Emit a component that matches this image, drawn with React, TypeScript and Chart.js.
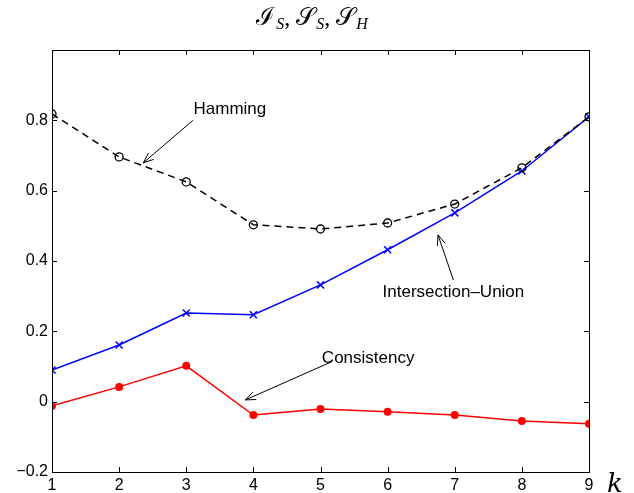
import React, { useEffect, useRef } from "react";
import { Chart, registerables } from "chart.js";

Chart.register(...registerables);

const kValues = [1, 2, 3, 4, 5, 6, 7, 8, 9];
const hamming = [0.818, 0.696, 0.625, 0.503, 0.491, 0.508, 0.562, 0.665, 0.81];
const intersectionUnion = [0.09, 0.161, 0.252, 0.247, 0.332, 0.432, 0.537, 0.656, 0.81];
const consistency = [-0.012, 0.042, 0.102, -0.038, -0.021, -0.029, -0.038, -0.055, -0.063];
const yTicks = [-0.2, 0, 0.2, 0.4, 0.6, 0.8, 1.0];
const yTickLabels = ["\u22120.2", "0", "0.2", "0.4", "0.6", "0.8", ""];

const annotations = [
  { text: "Hamming", tx: 3.65, ty: 0.83, sx: 3.1, sy: 0.8, ex: 2.36, ey: 0.679 },
  { text: "Intersection\u2013Union", tx: 6.98, ty: 0.312, sx: 6.98, sy: 0.346, ex: 6.75, ey: 0.474 },
  { text: "Consistency", tx: 5.71, ty: 0.124, sx: 5.16, sy: 0.113, ex: 3.88, ey: 0.005 },
];

const FONT = "'Liberation Sans', Arial, Helvetica, sans-serif";

const toXY = (ys: number[]) => ys.map((y, i) => ({ x: kValues[i], y }));

const framePlugin = {
  id: "frame",
  afterDraw(chart: any) {
    const { ctx, chartArea: a, scales } = chart;
    const xs = scales.x;
    const ys = scales.y;
    ctx.save();
    ctx.strokeStyle = "#000";
    ctx.lineWidth = 1;
    ctx.strokeRect(a.left + 0.5, a.top + 0.5, a.right - a.left, a.bottom - a.top);
    const tl = 5;
    ctx.beginPath();
    kValues.forEach((k) => {
      const px = Math.round(xs.getPixelForValue(k)) + 0.5;
      ctx.moveTo(px, a.bottom);
      ctx.lineTo(px, a.bottom - tl);
      ctx.moveTo(px, a.top);
      ctx.lineTo(px, a.top + tl);
    });
    yTicks.forEach((v) => {
      const py = Math.round(ys.getPixelForValue(v)) + 0.5;
      ctx.moveTo(a.left, py);
      ctx.lineTo(a.left + tl, py);
      ctx.moveTo(a.right, py);
      ctx.lineTo(a.right - tl, py);
    });
    ctx.stroke();

    // annotations
    ctx.fillStyle = "#000";
    ctx.font = `17px ${FONT}`;
    ctx.textAlign = "center";
    ctx.textBaseline = "middle";
    ctx.lineWidth = 1;
    annotations.forEach((an) => {
      ctx.fillText(an.text, xs.getPixelForValue(an.tx), ys.getPixelForValue(an.ty));
      const sx = xs.getPixelForValue(an.sx);
      const sy = ys.getPixelForValue(an.sy);
      const ex = xs.getPixelForValue(an.ex);
      const ey = ys.getPixelForValue(an.ey);
      const ang = Math.atan2(ey - sy, ex - sx);
      ctx.beginPath();
      ctx.moveTo(sx, sy);
      ctx.lineTo(ex, ey);
      ctx.stroke();
      const hl = 11;
      const hw = 0.38;
      ctx.beginPath();
      ctx.moveTo(ex - hl * Math.cos(ang - hw), ey - hl * Math.sin(ang - hw));
      ctx.lineTo(ex, ey);
      ctx.lineTo(ex - hl * Math.cos(ang + hw), ey - hl * Math.sin(ang + hw));
      ctx.stroke();
    });

    // x-axis label k
    ctx.font = `italic 26px 'DejaVu Serif', 'Liberation Serif', serif`;
    ctx.textAlign = "left";
    ctx.textBaseline = "alphabetic";
    ctx.fillText("k", a.right + 18, a.bottom + 20);

    // title with subscripts
    const parts: [string, string][] = [["\u2110", "S"], ["\uD835\uDCAE", "S"], ["\uD835\uDCAE", "H"]];
    const mainFont = `25px 'DejaVu Serif', 'Liberation Serif', serif`;
    const subFont = `italic 16px 'Liberation Serif', 'DejaVu Serif', serif`;
    const commaFont = `24px 'Liberation Serif', serif`;
    let total = 0;
    const widths: number[][] = [];
    parts.forEach((p, i) => {
      ctx.font = mainFont;
      const w1 = ctx.measureText(p[0]).width;
      ctx.font = subFont;
      const w2 = ctx.measureText(p[1]).width;
      ctx.font = commaFont;
      const w3 = i < parts.length - 1 ? ctx.measureText(", ").width : 0;
      widths.push([w1, w2, w3]);
      total += w1 + w2 + w3 + 1;
    });
    let x = 312 - total / 2;
    const base = 25;
    parts.forEach((p, i) => {
      ctx.font = mainFont;
      ctx.fillText(p[0], x, base);
      x += widths[i][0];
      ctx.font = subFont;
      ctx.fillText(p[1], x + 1, base + 4);
      x += widths[i][1] + 1;
      if (i < parts.length - 1) {
        ctx.font = commaFont;
        ctx.fillText(",", x, base);
        x += widths[i][2];
      }
    });
    ctx.restore();
  },
};

export default function App() {
  const ref = useRef<HTMLCanvasElement>(null);
  useEffect(() => {
    if (!ref.current) return;
    const chart = new Chart(ref.current, {
      type: "line",
      data: {
        datasets: [
          {
            label: "Hamming",
            data: toXY(hamming),
            borderColor: "#000",
            borderWidth: 1.5,
            borderDash: [7, 5],
            pointStyle: "circle",
            pointRadius: 4,
            pointBorderWidth: 1.3,
            pointBorderColor: "#000",
            pointBackgroundColor: "rgba(255,255,255,0)",
            tension: 0,
          },
          {
            label: "Intersection-Union",
            data: toXY(intersectionUnion),
            borderColor: "#0000ff",
            borderWidth: 1.5,
            pointStyle: "crossRot",
            pointRadius: 5,
            pointBorderWidth: 1.5,
            pointBorderColor: "#0000ff",
            tension: 0,
          },
          {
            label: "Consistency",
            data: toXY(consistency),
            borderColor: "#ff0000",
            borderWidth: 1.5,
            pointStyle: "circle",
            pointRadius: 4,
            pointBorderWidth: 0,
            pointBackgroundColor: "#ff0000",
            tension: 0,
          },
        ],
      },
      options: {
        animation: false,
        responsive: false,
        maintainAspectRatio: false,
        layout: { padding: { top: 50, right: 45, left: 0, bottom: 0 } },
        plugins: { legend: { display: false }, tooltip: { enabled: false }, title: { display: false } },
        scales: {
          x: {
            type: "linear",
            min: 1,
            max: 9,
            grid: { display: false, drawTicks: false },
            border: { display: false },
            ticks: {
              stepSize: 1,
              color: "#000",
              font: { family: FONT, size: 16 },
              padding: 4,
              maxRotation: 0,
            },
            afterFit(scale: any) {
              scale.height = 21;
            },
          },
          y: {
            type: "linear",
            min: -0.2,
            max: 1.0,
            grid: { display: false, drawTicks: false },
            border: { display: false },
            afterBuildTicks(scale: any) {
              scale.ticks = yTicks.map((v) => ({ value: v }));
            },
            ticks: {
              color: "#000",
              font: { family: FONT, size: 16 },
              padding: 4,
              callback: (v: any) => {
                const idx = yTicks.findIndex((t) => Math.abs(t - Number(v)) < 1e-9);
                return idx >= 0 ? yTickLabels[idx] : "";
              },
            },
            afterFit(scale: any) {
              scale.width = 52;
            },
          },
        },
      },
      plugins: [framePlugin],
    });
    return () => chart.destroy();
  }, []);
  return (
    <div style={{ position: "absolute", left: 0, top: 0, width: 634, height: 493, background: "#fff" }}>
      <canvas ref={ref} width={634} height={493} style={{ display: "block" }} />
    </div>
  );
}
